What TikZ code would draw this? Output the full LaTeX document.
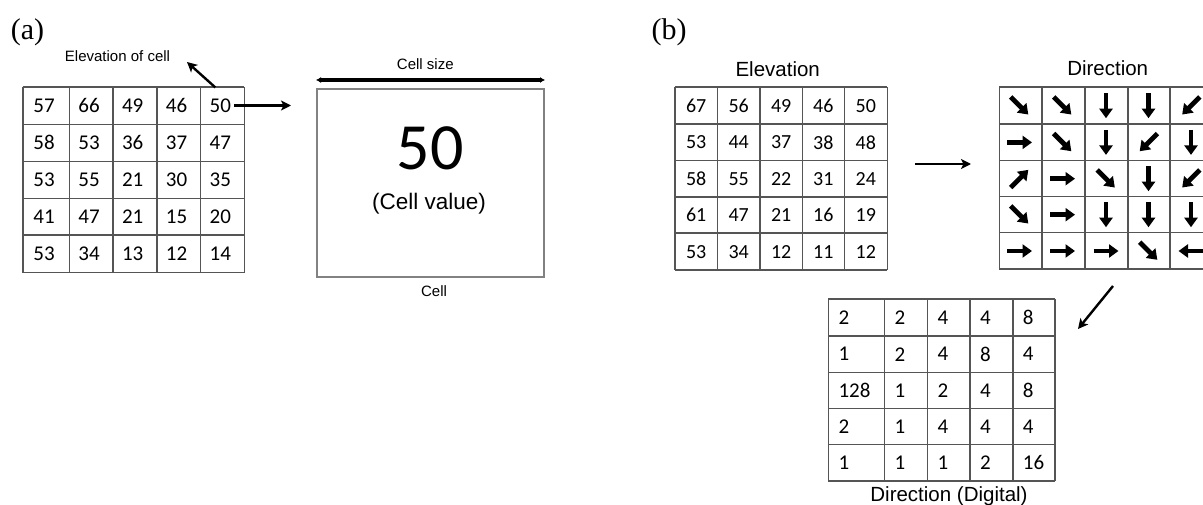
\documentclass[tikz,border=0pt]{standalone}
\usepackage{fontspec}
\setmainfont{Liberation Sans}
\newfontfamily\calfont{Carlito}
\newfontfamily\timesfont{Liberation Serif}
\usetikzlibrary{arrows.meta}
\definecolor{gridc}{RGB}{85,85,85}
\definecolor{boxc}{RGB}{130,130,130}
\begin{document}
\begin{tikzpicture}[x=1pt,y=-1pt,
  gridline/.style={draw=gridc,line width=1.6pt},
  num/.style={font=\calfont\fontsize{21}{21}\selectfont,inner sep=0pt},
  numb/.style={font=\calfont\fontsize{20}{20}\selectfont,inner sep=0pt},
  lbl/.style={font=\fontsize{15}{15}\selectfont,inner sep=0pt,anchor=base},
  ttl/.style={font=\fontsize{20.5}{20.5}\selectfont,inner sep=0pt,anchor=base},
  panel/.style={font=\timesfont\fontsize{30}{30}\selectfont,inner sep=0pt,anchor=base},
  conn/.style={line width=2.4pt,-{Stealth[length=10pt,width=10pt,inset=2.5pt]}},
  dbl/.style={line width=3.6pt,{Latex[length=5pt,width=6pt]}-{Latex[length=5pt,width=6pt]}},
  blk/.style={line width=4.8pt,-{Triangle[length=9.5pt,width=13pt]}},
]
\useasboundingbox (0,0) rectangle (1203,505);
\clip (0,0) rectangle (1203,505);

% ---------- panel labels ----------
\node[panel] (pa) at (27.5,39.5) {(a)};
\node[panel] (pb) at (669,39.5) {(b)};

% ---------- (a) elevation grid ----------
\foreach \x in {22.7,69.3,112.7,156.7,200.3,244.3}
  \draw[gridline] (\x,87.3) -- (\x,272.7);
\foreach \y in {87.3,124.7,161.7,198.7,235.3,272.7}
  \draw[gridline] (22.7,\y) -- (244.3,\y);
\foreach \row [count=\r] in {{57,66,49,46,50},{58,53,36,37,47},{53,55,21,30,35},{41,47,21,15,20},{53,34,13,12,14}}
  \foreach \v [count=\c] in \row {
    \pgfmathsetmacro\xx{{44,89,132.7,176.5,220.3}[\c-1]}
    \pgfmathsetmacro\yy{{105.5,142.7,179.7,216.5,253.5}[\r-1]}
    \node[num] (a-\r-\c) at (\xx,\yy) {\v};
  }

\node[lbl] (elevlbl) at (117.5,61.7) {Elevation of cell};
\coordinate (elevtip) at (187,62);
\draw[conn] ([shift={(-5,-11)}]a-1-5.north) -- (elevtip);
\coordinate (cellin) at (288,104.5);
\draw[conn] ([xshift=3pt]a-1-5.east) -- ([xshift=3pt]a-1-5.east -| cellin);

% ---------- (a) single cell ----------
\node[draw=boxc,line width=1.6pt,minimum width=227pt,minimum height=188pt,inner sep=0pt] (cellbox) at (430.4,183.2) {};
\coordinate (csl) at (316,80);
\coordinate (csr) at (545,80);
\draw[dbl] (csl) -- (csr);
\node[lbl] (cslbl) at (425.3,69.3) {Cell size};
\node[font=\calfont\fontsize{66}{66}\selectfont,inner sep=0pt] (bigval) at (430,148) {50};
\node[font=\fontsize{22.5}{22.5}\selectfont,inner sep=0pt,anchor=base] (cellval) at (429,210) {(Cell value)};
\node[lbl] (celllbl) at (434,296.7) {Cell};

% ---------- (b) elevation grid ----------
\node[ttl] (elevttl) at (777.7,76.7) {Elevation};
\foreach \x in {675,717.3,760,802.3,844.3,887.3}
  \draw[gridline] (\x,87.3) -- (\x,270);
\foreach \y in {87.3,124,160.7,197,233.3,270}
  \draw[gridline] (675,\y) -- (887.3,\y);
\foreach \row [count=\r] in {{67,56,49,46,50},{53,44,37,38,48},{58,55,22,31,24},{61,47,21,16,19},{53,34,12,11,12}}
  \foreach \v [count=\c] in \row {
    \pgfmathsetmacro\xx{{696.2,738.7,781.2,823.3,865.8}[\c-1]}
    \pgfmathsetmacro\yy{{105.7,142.4,178.9,215.2,251.7}[\r-1]}
    \node[numb] (e-\r-\c) at (\xx,\yy) {\v};
  }

\coordinate (harrs) at (915,164);
\coordinate (harre) at (971,164);
\draw[conn] (harrs) -- (harre);

% ---------- (b) direction grid ----------
\node[ttl] (dirttl) at (1107.7,76) {Direction};
\foreach \x in {999.3,1041.7,1085,1127.7,1170,1212.5}
  \draw[gridline] (\x,87.3) -- (\x,269.3);
\foreach \y in {87.3,124,160.7,196.7,232.7,269.3}
  \draw[gridline] (999.3,\y) -- (1212.5,\y);
\foreach \r in {1,...,5}
  \foreach \c in {1,...,5} {
    \pgfmathsetmacro\xx{{1019.5,1062.5,1106,1148.5,1191}[\c-1]}
    \pgfmathsetmacro\yy{{105.7,142.4,178.7,214.7,251}[\r-1]}
    \coordinate (d-\r-\c) at (\xx,\yy);
  }
\foreach \r/\c/\dx/\dy in {
  1/1/.707/.707, 1/2/.707/.707, 1/3/0/1, 1/4/0/1, 1/5/-.707/.707,
  2/1/1/0, 2/2/.707/.707, 2/3/0/1, 2/4/-.707/.707, 2/5/0/1,
  3/1/.707/-.707, 3/2/1/0, 3/3/.707/.707, 3/4/0/1, 3/5/-.707/.707,
  4/1/.707/.707, 4/2/1/0, 4/3/0/1, 4/4/0/1, 4/5/0/1,
  5/1/1/0, 5/2/1/0, 5/3/1/0, 5/4/.707/.707, 5/5/-1/0}
  \draw[blk] ([shift={({-12.5*\dx},{-12.5*\dy})}]d-\r-\c) -- ([shift={({12.5*\dx},{12.5*\dy})}]d-\r-\c);

\coordinate (darrs) at (1113,286);
\coordinate (darre) at (1078,329);
\draw[conn] (darrs) -- (darre);

% ---------- (b) digital grid ----------
\foreach \x in {828.3,884.3,927.3,970,1012.7,1055}
  \draw[gridline] (\x,299.3) -- (\x,481);
\foreach \y in {299.3,336,372.3,408.3,444.3,481}
  \draw[gridline] (828.3,\y) -- (1055,\y);
\foreach \row [count=\r] in {{2,2,4,4,8},{1,2,4,8,4},{128,1,2,4,8},{2,1,4,4,4},{1,1,1,2,16}}
  \foreach \v [count=\c] in \row {
    \pgfmathsetmacro\xx{{838.3,894.3,937.3,980,1022.7}[\c-1]}
    \pgfmathsetmacro\yy{{317.7,354.2,390.3,426.3,462.7}[\r-1]}
    \node[num,anchor=west] (g-\r-\c) at (\xx,\yy) {\v};
  }
\node[ttl] (digttl) at (949,501) {Direction (Digital)};
\end{tikzpicture}
\end{document}
